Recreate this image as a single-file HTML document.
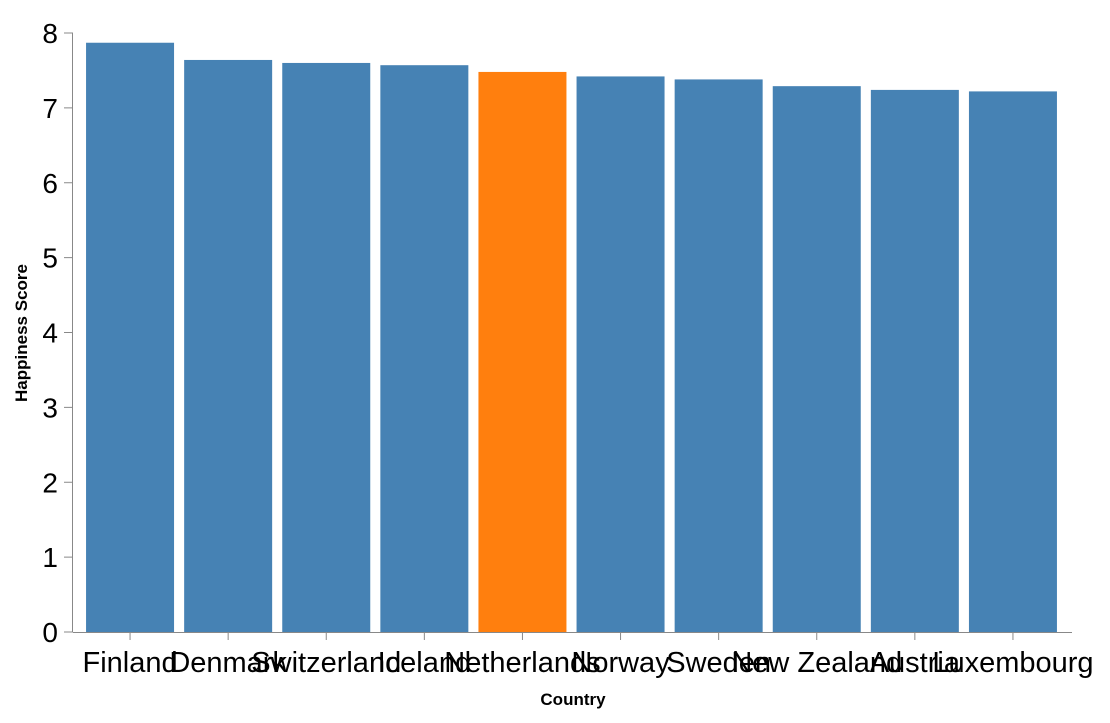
<!DOCTYPE html>
<html><head><meta charset="utf-8"><style>
body{margin:0;background:#fff;}
svg{font-family:"Liberation Sans",Arial,sans-serif;}
</style></head><body>
<svg id="chart" width="1110" height="718" viewBox="0 0 1110 718">
<g id="bars"></g>
<g id="xaxis"></g>
<g id="yaxis"></g>
<text x="573" y="705" text-anchor="middle" font-size="17" font-weight="bold">Country</text>
<text transform="translate(27,333) rotate(-90)" text-anchor="middle" font-size="17" font-weight="bold">Happiness Score</text>
</svg>
<script>
const countries=["Finland","Denmark","Switzerland","Iceland","Netherlands","Norway","Sweden","New Zealand","Austria","Luxembourg"];
const scores=[7.87,7.64,7.60,7.57,7.48,7.42,7.38,7.29,7.24,7.22];
const highlight=["Netherlands"];
const yTicks=[0,1,2,3,4,5,6,7,8];
const NS="http://www.w3.org/2000/svg";
const y0=632,y8=33,x0=81,step=98.1,bw=88;
function y(v){return y0-(y0-y8)*v/8;}
function xc(i){return x0+step*(i+0.5);}
function mk(t,a,p){const e=document.createElementNS(NS,t);for(const k in a)e.setAttribute(k,a[k]);p.appendChild(e);return e;}
const bars=document.getElementById('bars'),xa=document.getElementById('xaxis'),ya=document.getElementById('yaxis');
countries.forEach((c,i)=>{
  const r=mk('rect',{x:xc(i)-bw/2,y:y(scores[i]),width:bw,height:y0-y(scores[i]),fill:highlight.includes(c)?'#ff7f0e':'#4682b4'},bars);
  
  
  const tk=mk('line',{x1:xc(i),x2:xc(i),y1:y0,y2:y0+8,stroke:'#888'},xa);
  
  
  const t=mk('text',{x:xc(i),y:y0+40,'text-anchor':'middle','font-size':29},xa);
  t.textContent=c;
  
  
});
const xl=mk('line',{x1:73,x2:1072,y1:y0+0.5,y2:y0+0.5,stroke:'#888'},xa);


yTicks.forEach(v=>{
  const tk=mk('line',{x1:64,x2:73,y1:y(v),y2:y(v),stroke:'#888'},ya);
  
  
  const t=mk('text',{x:58,y:y(v)+10,'text-anchor':'end','font-size':28},ya);
  t.textContent=v;
  
  
});
const yl=mk('line',{x1:72.5,x2:72.5,y1:y8,y2:y0,stroke:'#888'},ya);


</script>
</body></html>
